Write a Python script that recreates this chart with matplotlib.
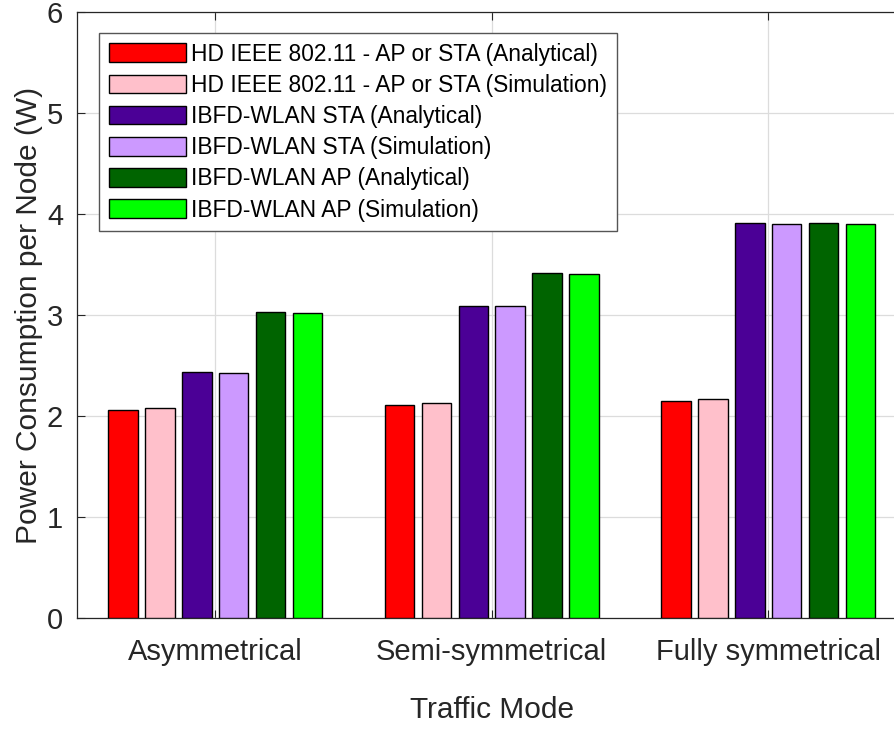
import numpy as np
import matplotlib
matplotlib.use("Agg")
import matplotlib.pyplot as plt

plt.rcParams['font.family'] = ['Liberation Sans', 'DejaVu Sans']

# Traffic modes on the x axis
categories = ["Asymmetrical", "Semi-symmetrical", "Fully symmetrical"]

# Power consumption per node (W) for each scheme
hd_analytical = [2.06, 2.11, 2.155]
hd_simulation = [2.08, 2.13, 2.17]
sta_analytical = [2.44, 3.095, 3.91]
sta_simulation = [2.43, 3.09, 3.90]
ap_analytical = [3.03, 3.42, 3.91]
ap_simulation = [3.02, 3.41, 3.90]

series_labels = [
    "HD IEEE 802.11 - AP or STA (Analytical)",
    "HD IEEE 802.11 - AP or STA (Simulation)",
    "IBFD-WLAN STA (Analytical)",
    "IBFD-WLAN STA (Simulation)",
    "IBFD-WLAN AP (Analytical)",
    "IBFD-WLAN AP (Simulation)",
]
series_colors = ["#ff0000", "#ffc0cb", "#4b0096", "#cc99ff", "#006400", "#00ff00"]
series_values = [hd_analytical, hd_simulation, sta_analytical,
                 sta_simulation, ap_analytical, ap_simulation]

W, H = 894, 751
fig = plt.figure(figsize=(W / 100, H / 100), dpi=100)
ax = fig.add_axes([77 / W, (H - 618.3) / H, 829.5 / W, 606 / H])

x = np.arange(1, len(categories) + 1)
n = len(series_values)
group_width = 0.8
step = group_width / n
bar_w = step * 0.8

for i, (vals, col, lab) in enumerate(zip(series_values, series_colors, series_labels)):
    offs = (i - (n - 1) / 2) * step
    ax.bar(x + offs, vals, width=bar_w, color=col, edgecolor="black",
           linewidth=1.0, label=lab, zorder=3)

axis_col = "#262626"
ax.set_xlim(0.5, 3.5)
ax.set_ylim(0, 6)
ax.set_xticks(x)
ax.set_xticklabels(categories)
ax.set_yticks(np.arange(0, 7, 1))

ax.grid(True, color="#dcdcdc", linewidth=0.9, zorder=0)
ax.set_axisbelow(True)
for s in ax.spines.values():
    s.set_color(axis_col)
    s.set_linewidth(0.9)

ax.tick_params(direction="in", length=6, width=0.8, colors=axis_col,
               labelsize=21, top=True, right=True, pad=10)
ax.tick_params(axis="x", pad=14)

ax.set_xlabel("Traffic Mode", fontsize=21.5, color=axis_col, labelpad=22)
ax.set_ylabel("Power Consumption per Node (W)", fontsize=21.5, color=axis_col, labelpad=3)

leg = ax.legend(loc="upper left", bbox_to_anchor=(99 / W, 1 - 33 / H),
                bbox_transform=fig.transFigure, borderaxespad=0,
                fontsize=16.4, handlelength=3.4, handleheight=0.88,
                handletextpad=0.22, labelspacing=0.36, borderpad=0.42,
                fancybox=False, framealpha=1, edgecolor="#555555")
leg.get_frame().set_linewidth(1.0)
for t in leg.get_texts():
    t.set_color("black")

fig.savefig("out.png", dpi=100)
